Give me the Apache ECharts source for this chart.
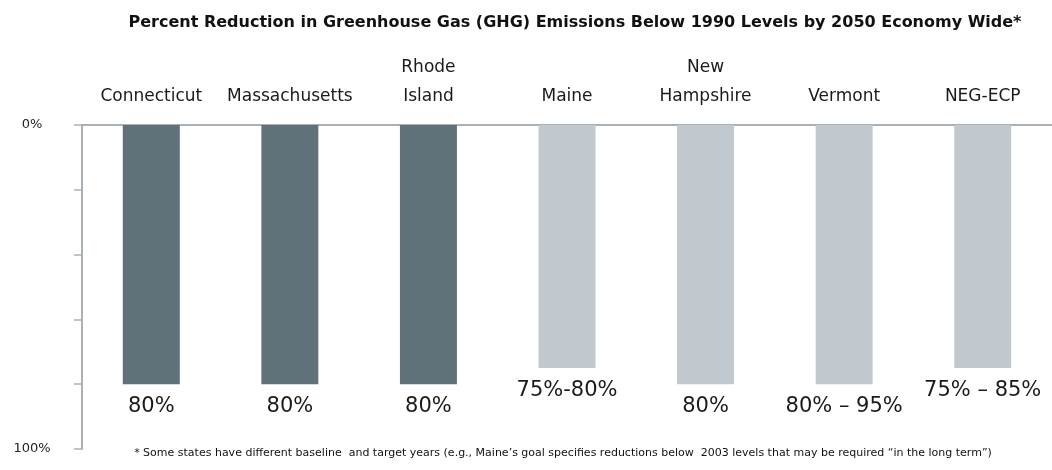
<!DOCTYPE html>
<html>
<head>
<meta charset="utf-8">
<script src="https://cdn.jsdelivr.net/npm/echarts@6/dist/echarts.min.js"></script>
<style>
  html, body { margin: 0; padding: 0; background: #fff; }
  #chart { width: 1052px; height: 470px; }
</style>
</head>
<body>
<div id="chart"></div>
<script>
// categories (states + regional plan)
const states = ['Connecticut', 'Massachusetts', 'Rhode\nIsland', 'Maine', 'New\nHampshire', 'Vermont', 'NEG-ECP']
const reductionPct = [80, 80, 80, 75, 80, 80, 75]
const targetLabels = ['80%', '80%', '80%', '75%-80%', '80%', '80% \u2013 95%', '75% \u2013 85%']
const yTicks = [0, 20, 40, 60, 80, 100]

const title = 'Percent Reduction in Greenhouse Gas (GHG) Emissions Below 1990 Levels by 2050 Economy Wide*'
const footnote = '* Some states have different baseline  and target years (e.g., Maine\u2019s goal specifies reductions below  2003 levels that may be required \u201cin the long term\u201d)'

const darkBar = '#607179'
const lightBar = '#c1c9ce'
const axisGrey = '#a9b1b6'
const font = 'DejaVu Sans'

const chart = echarts.init(document.getElementById('chart'))

chart.setOption({
  backgroundColor: '#fff',
  animation: false,
  title: [
    {
      text: title,
      left: 570,
      top: 10,
      textAlign: 'center',
      textStyle: { fontFamily: font, fontSize: 16, fontWeight: 'bold', color: '#111' },
    },
    {
      text: footnote,
      left: 558,
      top: 443,
      textAlign: 'center',
      textStyle: { fontFamily: font, fontSize: 11, fontWeight: 'normal', color: '#111' },
    },
  ],
  grid: { left: 82, right: -11, top: 125, bottom: 21 },
  xAxis: {
    type: 'category',
    position: 'top',
    data: states,
    axisLine: { lineStyle: { color: axisGrey, width: 2 } },
    axisTick: { length: 5, lineStyle: { color: axisGrey, width: 1.5 } },
    axisLabel: {
      interval: 0,
      margin: 14,
      fontFamily: font,
      fontSize: 17,
      lineHeight: 29,
      color: '#1a1a1a',
    },
  },
  yAxis: {
    type: 'value',
    inverse: true,
    min: 0,
    max: 100,
    interval: 20,
    splitLine: { show: false },
    axisLine: { show: true, lineStyle: { color: axisGrey, width: 2 } },
    axisTick: { show: true, length: 8, lineStyle: { color: axisGrey, width: 1.5 } },
    axisLabel: {
      margin: 50,
      align: 'center',
      fontFamily: font,
      fontSize: 13,
      color: '#222',
      formatter: v => (v === yTicks[0] || v === yTicks[yTicks.length - 1]) ? v + '%' : '',
    },
  },
  series: [
    {
      type: 'bar',
      barWidth: 57,
      data: reductionPct.map((v, i) => ({
        value: v,
        itemStyle: { color: i < 3 ? darkBar : lightBar },
      })),
      label: {
        show: true,
        position: 'bottom',
        distance: 12,
        fontFamily: font,
        fontSize: 21,
        color: '#1a1a1a',
        formatter: p => targetLabels[p.dataIndex],
      },
    },
  ],
})
</script>
</body>
</html>
